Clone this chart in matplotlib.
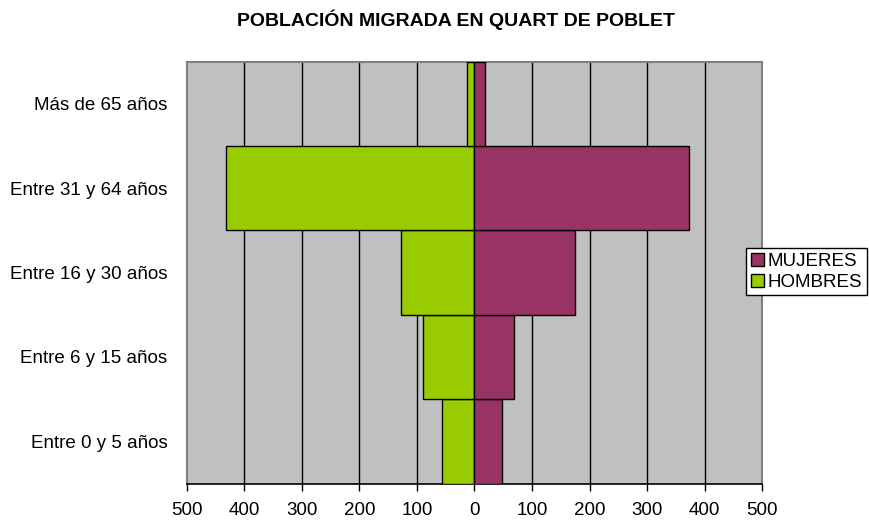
import numpy as np
import matplotlib
matplotlib.use('Agg')
import matplotlib.pyplot as plt
from matplotlib.patches import Patch

plt.rcParams['font.family'] = ['Liberation Sans', 'DejaVu Sans']

# Datos
grupos = ['Entre 0 y 5 años', 'Entre 6 y 15 años', 'Entre 16 y 30 años',
          'Entre 31 y 64 años', 'Más de 65 años']
hombres = [57, 89, 127, 432, 13]
mujeres = [47, 68, 174, 372, 19]
ticks = [-500, -400, -300, -200, -100, 0, 100, 200, 300, 400, 500]
tick_labels = [str(abs(t)) for t in ticks]

verde = '#99CC00'
granate = '#993366'

fig = plt.figure(figsize=(8.69, 5.22), dpi=100)
ax = fig.add_axes([186.7 / 869, 1 - 483.5 / 522, (762.3 - 186.7) / 869, (483.5 - 61.7) / 522])
ax.set_facecolor('#C0C0C0')

y = np.arange(len(grupos))
ax.barh(y, [-h for h in hombres], height=1.0, color=verde, edgecolor='black', linewidth=1.0, zorder=3)
ax.barh(y, mujeres, height=1.0, color=granate, edgecolor='black', linewidth=1.0, zorder=3)

ax.set_xlim(-500, 500)
ax.set_ylim(-0.5, len(grupos) - 0.5)
ax.set_xticks(ticks)
ax.set_xticklabels(tick_labels, fontsize=13.5)
ax.set_yticks(y)
ax.set_yticklabels(grupos, fontsize=13.5)
ax.tick_params(axis='y', length=0, pad=14)
ax.tick_params(axis='x', length=5, width=1, direction='out', pad=8.5, color='black')

for t in ticks[1:-1]:
    ax.axvline(t, color='black', linewidth=1.0, zorder=1)

for side in ['top', 'right', 'left']:
    ax.spines[side].set_color('#808080')
    ax.spines[side].set_linewidth(1.5)
ax.spines['bottom'].set_color('black')
ax.spines['bottom'].set_linewidth(1.2)

fig.text(456 / 869, 1 - 20 / 522, 'POBLACIÓN MIGRADA EN QUART DE POBLET',
         ha='center', va='center', fontsize=14, fontweight='bold')

handles = [Patch(facecolor=granate, edgecolor='black', label='MUJERES'),
           Patch(facecolor=verde, edgecolor='black', label='HOMBRES')]
leg = fig.legend(handles=handles, loc='upper left', bbox_to_anchor=(746 / 869, 1 - 248 / 522),
                 fontsize=13.5, frameon=True, fancybox=False, framealpha=1,
                 edgecolor='black', handlelength=0.7, handleheight=0.7,
                 handletextpad=0.2, borderpad=0.25, labelspacing=0.2, borderaxespad=0)
leg.get_frame().set_linewidth(1.0)

fig.savefig('out.png', dpi=100)
